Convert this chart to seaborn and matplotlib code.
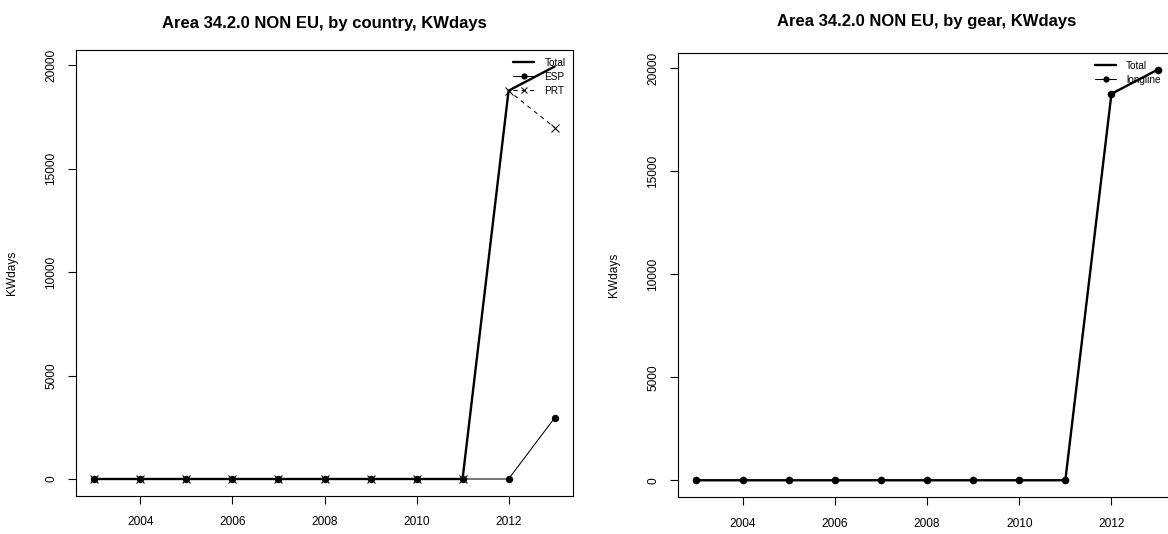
import pandas as pd
import seaborn as sns
import matplotlib.pyplot as plt
from matplotlib.lines import Line2D

# values
years = [2003, 2004, 2005, 2006, 2007, 2008, 2009, 2010, 2011, 2012, 2013]
total = [0, 0, 0, 0, 0, 0, 0, 0, 0, 18760, 19930]
esp = [0, 0, 0, 0, 0, 0, 0, 0, 0, 0, 2950]
prt = [0, 0, 0, 0, 0, 0, 0, 0, 0, 18760, 16980]
longline = [0, 0, 0, 0, 0, 0, 0, 0, 0, 18760, 19930]

x_ticks = [2004, 2006, 2008, 2010, 2012]
y_ticks = [0, 5000, 10000, 15000, 20000]

title_country = 'Area 34.2.0 NON EU, by country, KWdays'
title_gear = 'Area 34.2.0 NON EU, by gear, KWdays'

df = pd.DataFrame({'year': years, 'Total': total, 'ESP': esp,
                   'PRT': prt, 'longline': longline})

sns.set_style('white')
plt.rcParams['font.family'] = ['Liberation Sans', 'DejaVu Sans']
plt.rcParams['axes.edgecolor'] = 'black'
plt.rcParams['axes.linewidth'] = 0.8
plt.rcParams['text.color'] = 'black'
plt.rcParams['axes.labelcolor'] = 'black'
plt.rcParams['xtick.color'] = 'black'
plt.rcParams['ytick.color'] = 'black'

fig = plt.figure(figsize=(11.68, 5.34), dpi=100)
ax1 = fig.add_axes([76 / 1168, 38.5 / 534, 497 / 1168, 445.5 / 534])
ax2 = fig.add_axes([678 / 1168, 37.3 / 534, 498 / 1168, 443.4 / 534])

thick = 1.7
thin = 0.75

# left: by country
sns.lineplot(data=df, x='year', y='Total', ax=ax1, color='black', lw=thick)
sns.lineplot(data=df, x='year', y='ESP', ax=ax1, color='black', lw=thin,
             marker='o', markersize=5.3, markeredgewidth=0,
             markeredgecolor='black')
sns.lineplot(data=df, x='year', y='PRT', ax=ax1, color='black', lw=thin,
             linestyle=(0, (4, 4)), marker='x', markersize=5.5,
             markeredgewidth=thin, markeredgecolor='black')

# right: by gear
sns.lineplot(data=df, x='year', y='Total', ax=ax2, color='black', lw=thick)
sns.lineplot(data=df, x='year', y='longline', ax=ax2, color='black', lw=thin,
             marker='o', markersize=5.5, markeredgewidth=0,
             markeredgecolor='black')

ymax = max(total)
for ax, title, pad in [(ax1, title_country, 16), (ax2, title_gear, 19.5)]:
    ax.set_xlim(2003 - 0.4, 2013 + 0.4)
    ax.set_ylim(-0.04 * ymax, 1.04 * ymax)
    ax.set_xticks(x_ticks)
    ax.set_yticks(y_ticks)
    ax.tick_params(direction='out', length=5.5, width=0.8, labelsize=8.6,
                   pad=8, bottom=True, left=True, colors='black')
    ax.tick_params(axis='x', pad=9.5)
    plt.setp(ax.get_yticklabels(), rotation=90, va='center')
    ax.set_xlabel('')
    ax.set_ylabel('KWdays', fontsize=8.6)
    ax.yaxis.set_label_coords(-58 / 497, 0.5)
    ax.set_title(title, fontsize=12, fontweight='bold', pad=pad)
    for s in ax.spines.values():
        s.set_visible(True)
        s.set_color('black')

h_total = Line2D([], [], color='black', lw=thick)
h_esp = Line2D([], [], color='black', lw=thin, marker='o', markersize=4.5,
               markeredgewidth=0)
h_prt = Line2D([], [], color='black', lw=thin, linestyle=(0, (4, 4)),
               marker='x', markersize=5, markeredgewidth=thin,
               markeredgecolor='black')

leg_kw = dict(frameon=False, fontsize=7.2, handlelength=2.1,
              handletextpad=1.0, labelspacing=0.4, borderpad=0.75,
              borderaxespad=0)
ax1.legend([h_total, h_esp, h_prt], ['Total', 'ESP', 'PRT'],
           loc='upper right', **leg_kw)
ax2.legend([h_total, h_esp], ['Total', 'longline'], loc='upper right',
           bbox_to_anchor=(1 - 8 / 498, 1), **leg_kw)

plt.savefig('out.png', dpi=100)
